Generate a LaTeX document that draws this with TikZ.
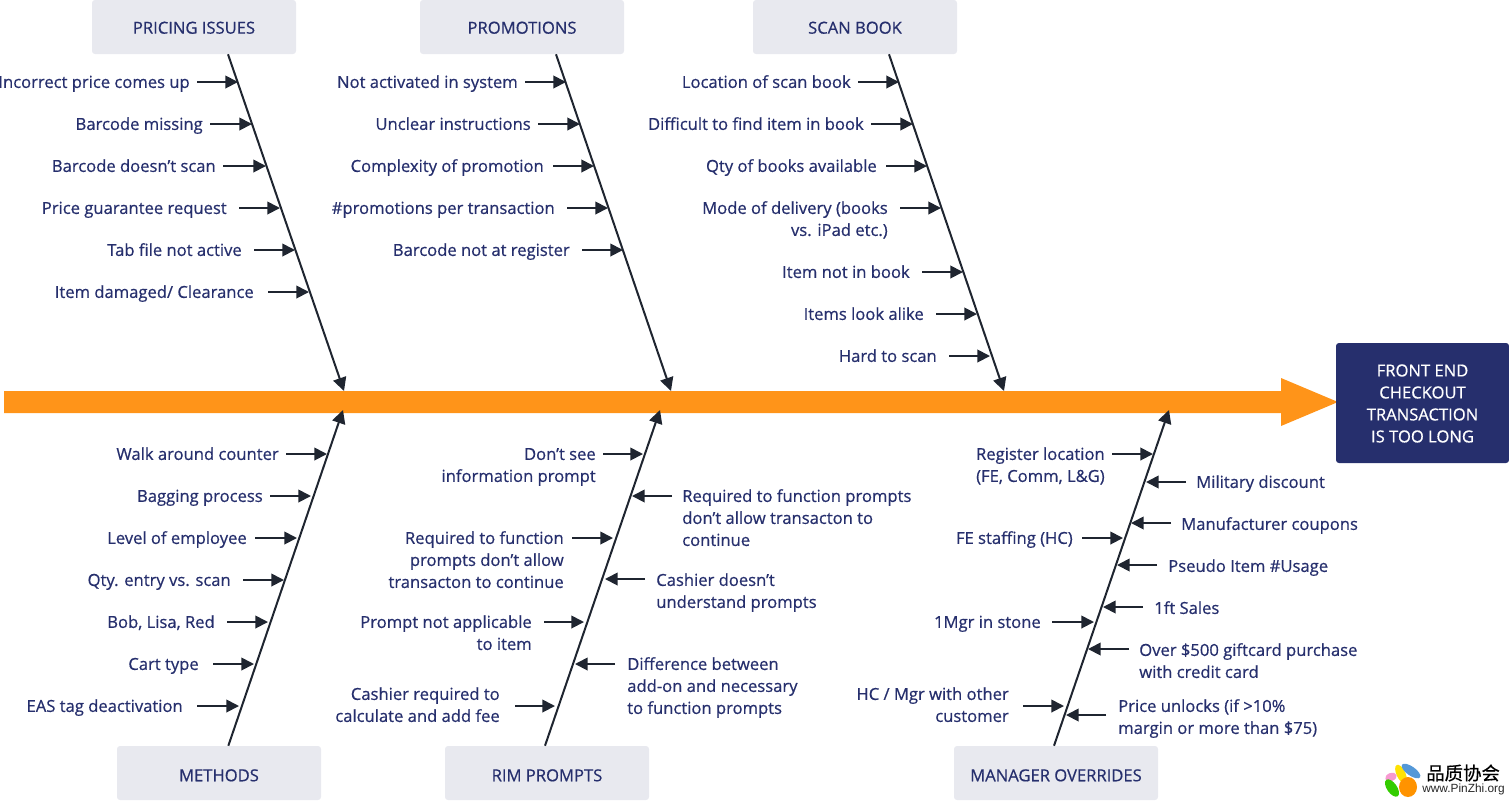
\documentclass[tikz,border=0pt]{standalone}
\usepackage{fontspec}
\setmainfont{Open Sans}[RawFeature={embolden=0.6}]
\newfontfamily\cjkfont{Noto Sans CJK SC}[RawFeature={embolden=0.5}]
\newfontfamily\logofont{Liberation Sans}
\usetikzlibrary{arrows.meta,calc}
\definecolor{navy}{HTML}{262F6D}
\definecolor{boxgray}{HTML}{E8E9EF}
\definecolor{fishorange}{HTML}{FF9419}
\definecolor{bone}{HTML}{1F2530}
\tikzset{
  lab/.style={inner sep=0pt,text=navy,font=\fontsize{12.45}{16.5}\selectfont},
  catbox/.style={fill=boxgray,rounded corners=2.2pt,minimum width=153pt,minimum height=40.5pt,inner sep=0pt,text height=10pt,text depth=0pt,text=navy,font=\fontsize{12.45}{16.5}\selectfont},
  lowbox/.style={catbox,text height=12.4pt},
  spine/.style={draw=bone,line width=1.5pt,-{Triangle[length=10pt,width=10pt]}},
  twig/.style={draw=bone,line width=1.4pt,-{Triangle[length=9.5pt,width=9.5pt]}},
}
\newcommand{\causeL}[7]{%
  \node[lab,anchor=base east] (#1) at (#2,#3+5.9) {\begin{tabular}[t]{@{}r@{}}#4\end{tabular}};
  \coordinate (#1t) at (#6,#5);
  \coordinate (#1h) at (#7,#5);
  \draw[twig] (#1t) -- (#1h);}
\newcommand{\causeR}[7]{%
  \node[lab,anchor=base west] (#1) at (#2,#3+5.9) {\begin{tabular}[t]{@{}l@{}}#4\end{tabular}};
  \coordinate (#1t) at (#6,#5);
  \coordinate (#1h) at (#7,#5);
  \draw[twig] (#1t) -- (#1h);}
\begin{document}
\begin{tikzpicture}[x=0.75pt,y=-0.75pt]
\useasboundingbox (0,0) rectangle (1509,801);
% main shaft
\fill[fishorange] (4,391) -- (1281,391) -- (1281,378) -- (1338,402) -- (1281,426) -- (1281,413) -- (4,413) -- cycle;
% effect
\node[fill=navy,rounded corners=2.2pt,minimum width=129.75pt,minimum height=90pt,inner sep=0pt,text=white,text height=24.5pt,text depth=15.5pt,font=\fontsize{12.45}{16.5}\selectfont] (effect) at (1422.5,403) {\begin{tabular}{@{}c@{}}FRONT END\\CHECKOUT\\TRANSACTION\\IS TOO LONG\end{tabular}};
% category boxes
\node[catbox] (pricing) at (194,27) {PRICING ISSUES};
\node[catbox] (promo) at (522,27) {PROMOTIONS};
\node[catbox] (scan) at (855,27) {SCAN BOOK};
\node[lowbox] (methods) at (219,773) {METHODS};
\node[lowbox] (rim) at (547,773) {RIM PROMPTS};
\node[lowbox] (manager) at (1056,773) {MANAGER OVERRIDES};
% bones
\coordinate (tipA) at (344,391);
\coordinate (tipB) at (671,391);
\coordinate (tipC) at (1004,391);
\coordinate (tipD) at (343,410);
\coordinate (tipE) at (660,410);
\coordinate (tipF) at (1169,410);
\draw[spine] ([xshift=25.5pt]pricing.south) -- (tipA);
\draw[spine] ([xshift=25.5pt]promo.south) -- (tipB);
\draw[spine] ([xshift=25.5pt]scan.south) -- (tipC);
\draw[spine] ([xshift=7pt]methods.north) -- (tipD);
\draw[spine] ([xshift=-1.5pt]rim.north) -- (tipE);
\draw[spine] ([xshift=-1.5pt]manager.north) -- (tipF);
% pricing
\causeL{a1}{190}{82}{Incorrect price comes up}{82}{197}{238}
\causeL{a2}{203}{124}{Barcode missing}{124}{210}{252}
\causeL{a3}{216}{166}{Barcode doesn’t scan}{166}{223}{266}
\causeL{a4}{227}{208}{Price guarantee request}{208}{239}{280}
\causeL{a5}{242}{250}{Tab file not active}{250}{254}{295}
\causeL{a6}{254}{292}{Item damaged/ Clearance}{292}{268}{309}
% promotions
\causeL{b1}{518}{82}{Not activated in system}{82}{525}{566}
\causeL{b2}{531}{124}{Unclear instructions}{124}{538}{580}
\causeL{b3}{544}{166}{Complexity of promotion}{166}{553}{594}
\causeL{b4}{555}{208}{\#promotions per transaction}{208}{567}{608}
\causeL{b5}{570}{250}{Barcode not at register}{250}{582}{623}
% scan book
\causeL{c1}{851}{82}{Location of scan book}{82}{858}{899}
\causeL{c2}{864}{124}{Difficult to find item in book}{124}{871}{913}
\causeL{c3}{877}{166}{Qty of books available}{166}{886}{927}
\causeL{c4}{888}{208}{Mode of delivery (books\\vs. iPad etc.)}{208}{900}{941}
\causeL{c5}{910}{272}{Item not in book}{272}{922}{963}
\causeL{c6}{924}{314}{Items look alike}{314}{936}{977}
\causeL{c7}{937}{356}{Hard to scan}{356}{949}{990}
% methods
\causeL{d1}{279}{454}{Walk around counter}{454}{286}{327}
\causeL{d2}{263}{496}{Bagging process}{496}{270}{311}
\causeL{d3}{247}{538}{Level of employee}{538}{255}{297}
\causeL{d4}{231}{580}{Qty. entry vs. scan}{580}{243}{284}
\causeL{d5}{215}{622}{Bob, Lisa, Red}{622}{227}{268}
\causeL{d6}{199}{664}{Cart type}{664}{213}{254}
\causeL{d7}{183}{706}{EAS tag deactivation}{706}{197}{239}
% rim prompts
\causeL{e1}{596}{454}{Don’t see\\information prompt}{454}{603}{643}
\causeL{e2}{564}{538}{Required to function\\prompts don’t allow\\transacton to continue}{538}{572}{613}
\causeL{e3}{532}{622}{Prompt not applicable\\to item}{622}{544}{584}
\causeL{e4}{500}{694}{Cashier required to\\calculate and add fee}{706}{515}{555}
\causeR{e5}{682}{496}{Required to function prompts\\don’t allow transacton to\\continue}{496}{672}{632}
\causeR{e6}{656}{580}{Cashier doesn’t\\understand prompts}{579}{645}{605}
\causeR{e7}{627}{664}{Difference between\\add-on and necessary\\to function prompts}{664}{615}{575}
% manager overrides
\causeL{f1}{1105}{454}{Register location\\(FE, Comm, L\&G)}{454}{1112}{1153}
\causeL{f2}{1073}{538}{FE staffing (HC)}{538}{1082}{1123}
\causeL{f3}{1041}{622}{1Mgr in stone}{622}{1052}{1094}
\causeL{f4}{1009}{694}{HC / Mgr with other\\customer}{706}{1023}{1064}
\causeR{f5}{1196}{482}{Military discount}{482}{1186}{1146}
\causeR{f6}{1181}{524}{Manufacturer coupons}{523}{1171}{1131}
\causeR{f7}{1168}{566}{Pseudo Item \#Usage}{565}{1157}{1117}
\causeR{f8}{1154}{608}{1ft Sales}{607}{1143}{1103}
\causeR{f9}{1139}{650}{Over \$500 giftcard purchase\\with credit card}{649}{1129}{1088}
\causeR{f10}{1118}{706}{Price unlocks (if >10\%\\margin or more than \$75)}{715}{1106}{1066}
% logo
\fill[yellow!85!orange,rotate around={-65:(1401,774)}] (1401,774) ellipse (10 and 4.5);
\fill[cyan!60!blue!70,rotate around={-35:(1411,771)}] (1411,771) ellipse (11 and 4.5);
\fill[magenta!40,rotate around={20:(1391,777)}] (1391,777) ellipse (6 and 4);
\fill[green!60!olive,rotate around={-55:(1392,788)}] (1392,788) ellipse (10 and 5);
\fill[orange!85!yellow] (1408,787) ellipse (9 and 10);
\node[inner sep=0pt,anchor=west,font=\cjkfont\fontsize{13.8}{14}\selectfont,text=black] (logoa) at (1426,773) {品质协会};
\node[inner sep=0pt,anchor=west,font=\logofont\fontsize{8.9}{10}\selectfont,text=black!85] (logob) at (1422,789) {www.PinZhi.org};
\end{tikzpicture}
\end{document}
